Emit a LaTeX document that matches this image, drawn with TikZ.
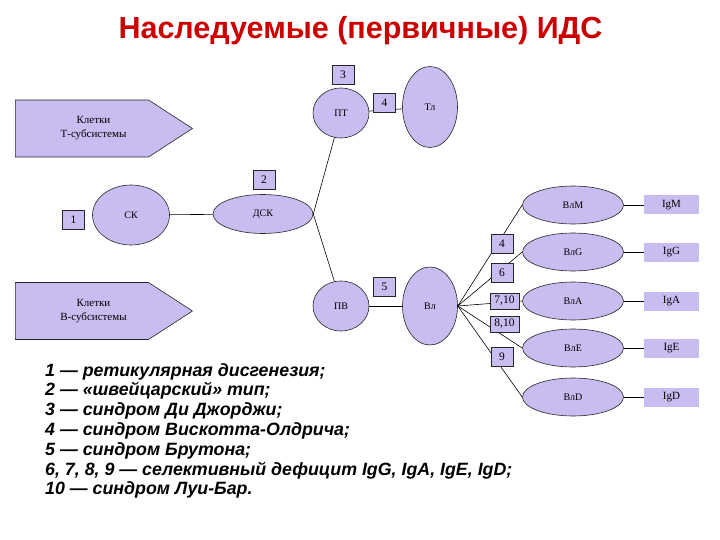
\documentclass[tikz,border=0pt]{standalone}
\usepackage{fontspec}
\setmainfont{Liberation Serif}
\newfontfamily\headfont{Liberation Sans}
\usetikzlibrary{shapes.geometric,shapes.symbols}
\definecolor{lilac}{RGB}{200,188,240}
\definecolor{headred}{RGB}{204,0,0}

\begin{document}
\begin{tikzpicture}[x=1pt, y=-1pt, every node/.style={font=\fontsize{10}{12}\selectfont, inner sep=0pt}, cell/.style={ellipse, draw=black!85, fill=lilac, line width=0.6pt}, num/.style={draw=black!85, fill=lilac, line width=0.6pt, minimum width=22pt, minimum height=19pt, font=\fontsize{11.5}{13}\selectfont}, wnum/.style={num, minimum width=29pt, minimum height=16pt}, ig/.style={fill=lilac, minimum width=55pt, minimum height=19pt, font=\fontsize{11}{13}\selectfont}, cellgroup/.style={signal, signal to=east, signal pointer angle=66, draw=black!85, fill=lilac, line width=0.6pt, minimum width=177pt, minimum height=57pt, align=center, font=\fontsize{11}{14}\selectfont}, link/.style={line width=0.6pt}]
	\useasboundingbox (0,0) rectangle (720,540);
	\node[font=\headfont\bfseries\fontsize{30.5}{34}\selectfont, text=headred, anchor=base] (title) at (360.5,39) {Наследуемые (первичные) ИДС};
	\node[cellgroup] (tsub) at (82,128.5) {\hspace*{23pt}Клетки\\\hspace*{23pt}Т-субсистемы};
	\node[cellgroup] (bsub) at (82,311) {\hspace*{23pt}Клетки\\\hspace*{23pt}В-субсистемы};
	\node[cell, minimum width=77pt, minimum height=60pt] (sk) at (131,215) {СК};
	\node[cell, minimum width=100pt, minimum height=39pt] (dsk) at (263,214) {ДСК};
	\node[cell, minimum width=56pt, minimum height=50pt] (pt) at (341,113) {ПТ};
	\node[cell, minimum width=55pt, minimum height=81pt] (tl) at (430,107) {Тл};
	\node[cell, minimum width=56pt, minimum height=50pt] (pv) at (341,306) {ПВ};
	\node[cell, minimum width=55pt, minimum height=78pt] (vl) at (430,306) {Вл};
	\foreach \cls/\y in {M/205, G/252, A/301, E/348, D/397} {
		\node[cell, minimum width=101pt, minimum height=38pt] (vl\cls) at (573,\y) {Вл\cls};
		\node[ig] (ig\cls) at (671.5,\y) {Ig\cls};
	}
	\draw[link] (sk) -- (dsk);
	\draw[link] (dsk.east) -- (pt.255);
	\draw[link] (dsk.east) -- (pv.105);
	\draw[link] (pt) -- (tl);
	\draw[link] (pv) -- (vl);
	\foreach \cls in {M,G,A,E,D} {
		\draw[link] (vl.east) -- (vl\cls.west);
		\draw[link] (vl\cls) -- (ig\cls);
	}
	\node[num] (n1) at (73.5,220) {1};
	\node[num] (n2) at (264,180) {2};
	\node[num] (n3) at (343,75) {3};
	\node[num] (n4t) at (384.5,103) {4};
	\node[num] (n5) at (384.5,286.5) {5};
	\node[num] (n4) at (502,243.5) {4};
	\node[num] (n6) at (502,272.5) {6};
	\node[wnum] (n710) at (504.5,301) {7,10};
	\node[wnum] (n810) at (504.5,324) {8,10};
	\node[num] (n9) at (502,356.5) {9};
	\node[anchor=north west, align=left, font=\headfont\bfseries\itshape\fontsize{17.8}{19.8}\selectfont] (legend) at (45,363) {1 — ретикулярная дисгенезия;\\2 — «швейцарский» тип;\\3 — синдром Ди Джорджи;\\4 — синдром Вискотта-Олдрича;\\5 — синдром Брутона;\\6, 7, 8, 9 — селективный дефицит IgG, IgA, IgE, IgD;\\10 — синдром Луи-Бар.};
\end{tikzpicture}
\end{document}
